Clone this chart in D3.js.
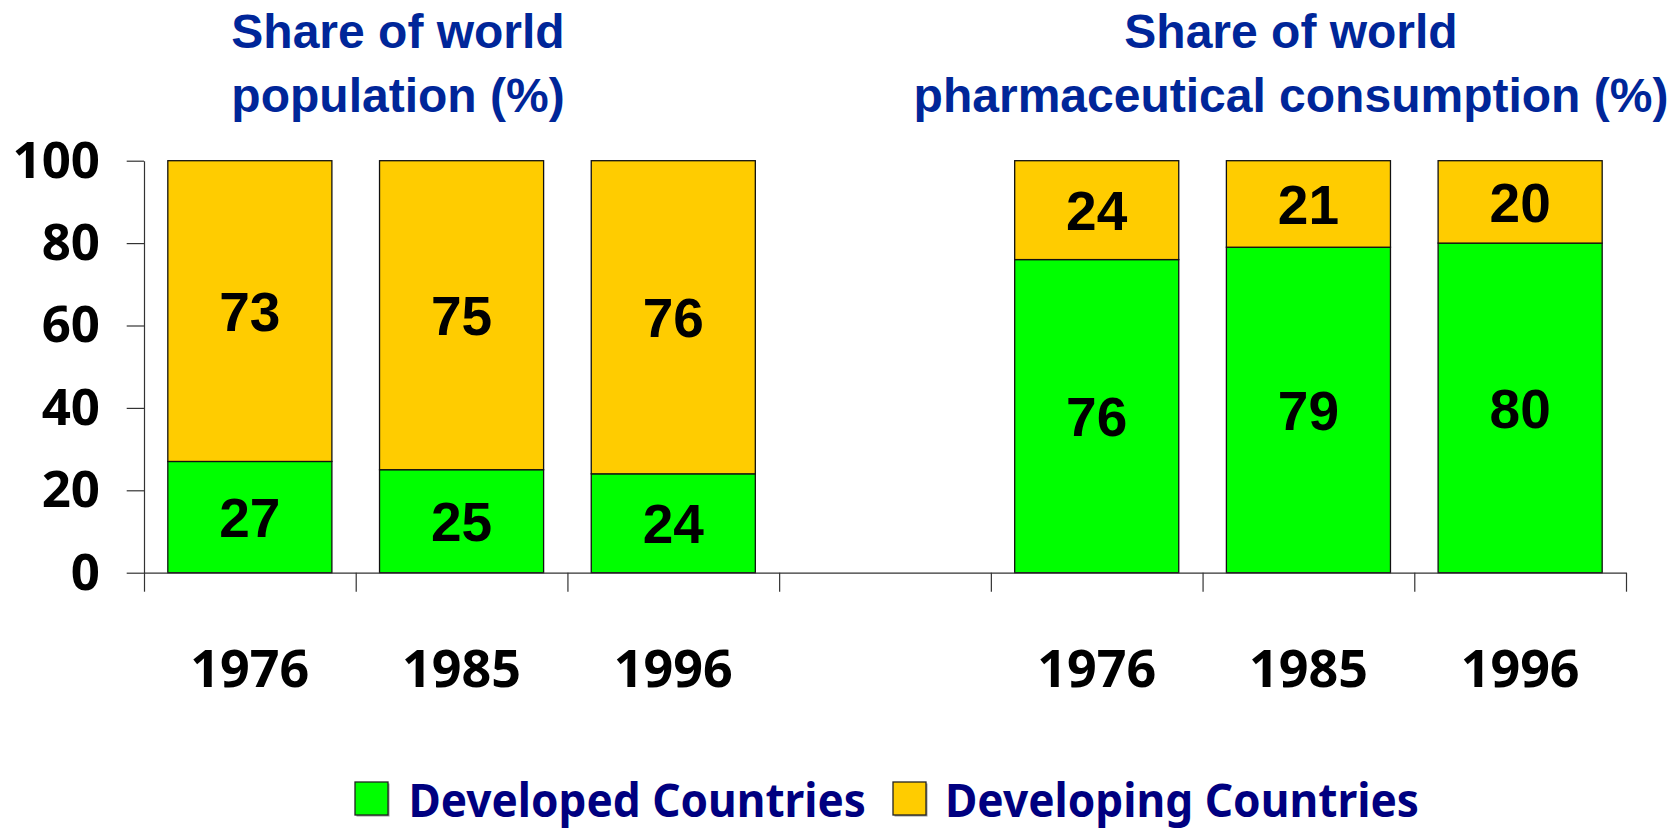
<!DOCTYPE html>
<html>
<head>
<meta charset="utf-8">
<script src="https://cdn.jsdelivr.net/npm/d3@7"></script>
<style>
  html, body { margin: 0; padding: 0; background: #fff; }
  svg { display: block; }
</style>
</head>
<body>
<svg id="chart" width="1680" height="829"></svg>
<script>
// ---- data ----
const years = ["1976", "1985", "1996"];
const popDeveloped = [27, 25, 24];
const popDeveloping = [73, 75, 76];
const pharmaDeveloped = [76, 79, 80];
const pharmaDeveloping = [24, 21, 20];
const yTicks = [0, 20, 40, 60, 80, 100];
const seriesNames = ["Developed Countries", "Developing Countries"];
const seriesColors = ["#00ff00", "#ffcc00"];
const titlePop = ["Share of world", "population (%)"];
const titlePharma = ["Share of world", "pharmaceutical consumption (%)"];

(function () {
// ---- build table ----
const slots = [
  ...years.map(y => "pop-" + y),
  "gap",
  ...years.map(y => "pharma-" + y)
];
const rows = [];
years.forEach((y, i) => {
  rows.push({ slot: "pop-" + y, year: y, dev: popDeveloped[i], ing: popDeveloping[i] });
  rows.push({ slot: "pharma-" + y, year: y, dev: pharmaDeveloped[i], ing: pharmaDeveloping[i] });
});

const svg = d3.select("#chart");
const pL = 144, pR = 1626, pT = 160.7, pB = 572.7;

const x = d3.scaleBand().domain(slots).range([pL, pR]).paddingInner(0.225).paddingOuter(0.1125);
const y = d3.scaleLinear().domain([0, 100]).range([pB, pT]);
const xb = d3.scaleLinear().domain([0, slots.length]).range([pL, pR]);

const labelFont = "'Noto Sans', 'DejaVu Sans', sans-serif";

// ---- bars ----
const stack = d3.stack().keys(["dev", "ing"])(rows);
const g = svg.append("g");
stack.forEach((layer, li) => {
  g.append("g").selectAll("rect").data(layer).join("rect")
    .attr("x", d => x(d.data.slot))
    .attr("width", x.bandwidth())
    .attr("y", d => y(d[1]))
    .attr("height", d => y(d[0]) - y(d[1]))
    .attr("fill", seriesColors[li])
    .attr("stroke", "#111")
    .attr("stroke-width", 1.3);
});
stack.forEach((layer) => {
  g.append("g").selectAll("text").data(layer).join("text")
    .attr("x", d => x(d.data.slot) + x.bandwidth() / 2)
    .attr("y", d => (y(d[0]) + y(d[1])) / 2)
    .attr("dy", "0.358em")
    .attr("text-anchor", "middle")
    .attr("font-family", "'Liberation Sans', Arial, sans-serif")
    .attr("font-weight", "bold")
    .attr("font-size", 55)
    .attr("fill", "#000")
    .text(d => d[1] - d[0]);
});

// ---- axes ----
const yAxis = svg.append("g")
  .attr("transform", `translate(${pL},0)`)
  .call(d3.axisLeft(y).tickValues(yTicks).tickSize(17.3).tickPadding(26.7).tickSizeOuter(0));
yAxis.selectAll("text")
  .attr("font-family", labelFont)
  .attr("font-weight", "bold")
  .attr("font-size", 51)
  .attr("fill", "#000");

const xAxis = svg.append("g")
  .attr("transform", `translate(0,${pB})`)
  .call(d3.axisBottom(xb).tickValues(d3.range(slots.length + 1)).tickFormat("").tickSize(19).tickSizeOuter(0));

[yAxis, xAxis].forEach(a => {
  a.selectAll("path, line").attr("stroke", "#333").attr("stroke-width", 1.2);
});

// year labels
svg.append("g").selectAll("text").data(rows).join("text")
  .attr("x", d => x(d.slot) + x.bandwidth() / 2)
  .attr("y", 686.5)
  .attr("text-anchor", "middle")
  .attr("font-family", labelFont)
  .attr("font-weight", "bold")
  .attr("font-size", 52)
  .attr("fill", "#000")
  .text(d => d.year);

// ---- titles ----
function title(lines, cx) {
  const t = svg.append("text")
    .attr("text-anchor", "middle")
    .attr("font-family", "'Liberation Sans', Arial, sans-serif")
    .attr("font-weight", "bold")
    .attr("font-size", 48)
    .attr("fill", "#002699");
  lines.forEach((l, i) => {
    t.append("tspan").attr("x", cx).attr("y", 47.7 + i * 64).text(l);
  });
}
title(titlePop, 398);
title(titlePharma, 1291);

// ---- legend ----
const legendPos = [{ sq: 355, tx: 408.5, len: 457.5 }, { sq: 893, tx: 945, len: 474 }];
const leg = svg.append("g");
seriesNames.forEach((name, i) => {
  const p = legendPos[i];
  leg.append("rect")
    .attr("x", p.sq + 1.5).attr("y", 783.5)
    .attr("width", 33).attr("height", 33)
    .attr("fill", "#999");
  leg.append("rect")
    .attr("x", p.sq).attr("y", 782)
    .attr("width", 33).attr("height", 33)
    .attr("fill", seriesColors[i])
    .attr("stroke", "#222")
    .attr("stroke-width", 1.3);
  leg.append("text")
    .attr("x", p.tx).attr("y", 816.7)
    .attr("font-family", labelFont)
    .attr("font-weight", "bold")
    .attr("font-size", 46)
    .attr("fill", "#000080")
    .attr("textLength", p.len)
    .attr("lengthAdjust", "spacingAndGlyphs")
    .text(name);
});
})();
</script>
</body>
</html>
